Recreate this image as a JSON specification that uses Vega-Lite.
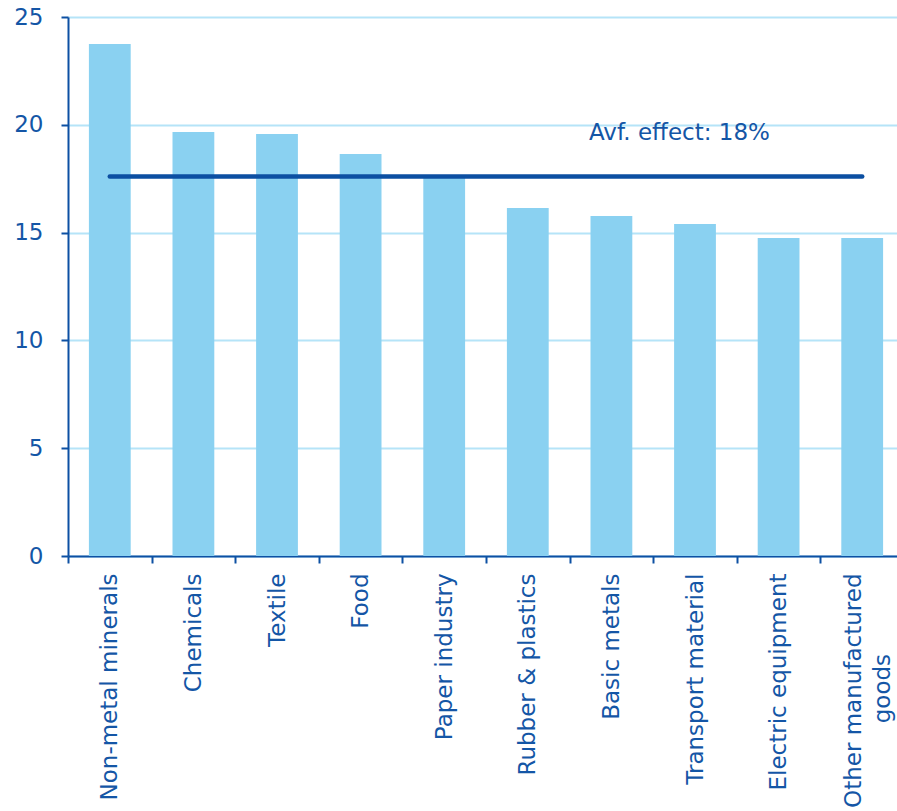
{
  "$schema": "https://vega.github.io/schema/vega-lite/v6.json",
  "width": 829,
  "height": 539,
  "autosize": {"type": "none"},
  "padding": {"left": 68, "top": 17, "right": 0, "bottom": 255},
  "background": "white",
  "config": {"view": {"stroke": null}, "font": "DejaVu Sans"},
  "datasets": {
    "sectors": [
      {"sector": "Non-metal minerals", "value": 23.75},
      {"sector": "Chemicals", "value": 19.67},
      {"sector": "Textile", "value": 19.57},
      {"sector": "Food", "value": 18.65},
      {"sector": "Paper industry", "value": 17.6},
      {"sector": "Rubber & plastics", "value": 16.14},
      {"sector": "Basic metals", "value": 15.77},
      {"sector": "Transport material", "value": 15.4},
      {"sector": "Electric equipment", "value": 14.75},
      {"sector": "Other manufactured goods", "value": 14.75}
    ],
    "avg": [
      {"label": "Avf. effect: 18%", "value": 17.6, "from": "Non-metal minerals", "to": "Other manufactured goods", "labelX": "Basic metals", "labelY": 19.3}
    ]
  },
  "layer": [
    {
      "data": {"name": "sectors"},
      "mark": {"type": "bar", "color": "#8ad1f1"},
      "encoding": {
        "x": {
          "field": "sector",
          "type": "nominal",
          "sort": null,
          "scale": {
            "domain": ["Non-metal minerals", "Chemicals", "Textile", "Food", "Paper industry", "Rubber & plastics", "Basic metals", "Transport material", "Electric equipment", "Other manufactured goods"],
            "range": [0, 836],
            "paddingInner": 0.5,
            "paddingOuter": 0.25
          },
          "axis": {
            "title": null,
            "labelAngle": -90,
            "labelAlign": "right",
            "labelBaseline": "middle",
            "labelFontSize": 23,
            "labelColor": "#1456a6",
            "labelLimit": 0,
            "labelPadding": 10,
            "labelLineHeight": 29,
            "labelExpr": "datum.label == 'Other manufactured goods' ? ['Other manufactured', 'goods\u00a0\u00a0\u00a0\u00a0\u00a0\u00a0\u00a0\u00a0\u00a0\u00a0\u00a0\u200d'] : datum.label",
            "domainColor": "#0d50a3",
            "domainWidth": 2,
            "tickColor": "#0d50a3",
            "tickWidth": 2,
            "tickSize": 7,
            "tickOffset": -41.8,
            "labelOffset": {"condition": {"test": "datum.value == 'Other manufactured goods'", "value": 33.3}, "value": 41.8},
            "grid": false
          }
        },
        "y": {
          "field": "value",
          "type": "quantitative",
          "scale": {"domain": [0, 25], "nice": false},
          "axis": {
            "title": null,
            "values": [0, 5, 10, 15, 20, 25],
            "labelFontSize": 23,
            "labelColor": "#1456a6",
            "labelPadding": 18,
            "domainColor": "#0d50a3",
            "domainWidth": 2,
            "tickColor": "#0d50a3",
            "tickWidth": 2,
            "tickSize": 7,
            "gridColor": "#b5e4f8",
            "gridWidth": 2
          }
        }
      }
    },
    {
      "data": {"name": "avg"},
      "mark": {"type": "rule", "color": "#0c4fa2", "strokeWidth": 4.5, "strokeCap": "round"},
      "encoding": {
        "x": {"field": "from", "type": "nominal"},
        "x2": {"field": "to"},
        "y": {"field": "value", "type": "quantitative"}
      }
    },
    {
      "data": {"name": "avg"},
      "mark": {"type": "text", "fontSize": 23, "color": "#1456a6", "align": "center", "baseline": "alphabetic", "dx": 68},
      "encoding": {
        "x": {"field": "labelX", "type": "nominal"},
        "y": {"field": "labelY", "type": "quantitative"},
        "text": {"field": "label"}
      }
    }
  ]
}
